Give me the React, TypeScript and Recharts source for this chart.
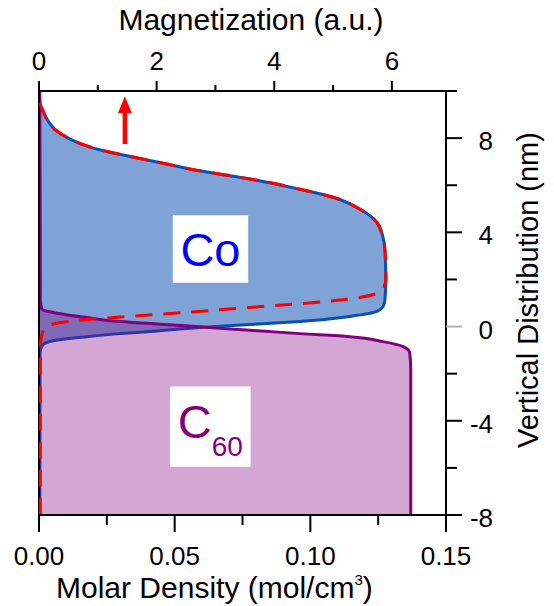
import {
  Area,
  ComposedChart,
  Line,
  ReferenceArea,
  ReferenceLine,
  XAxis,
  YAxis,
} from "recharts"

const FONT = '"Liberation Sans", Arial, sans-serif'

// Co molar density (mol/cm3) vs height (nm)
const coHeight = [
  -8, -1.1, -0.77, -0.6, -0.43, -0.3, -0.21, -0.04, 0.085, 0.21, 0.43, 0.64,
  0.85, 1.15, 2.0, 3.28, 3.83, 4.43, 4.98, 5.49, 5.83, 6.13, 6.38, 6.6, 6.89,
  7.19, 7.4, 7.62, 7.96, 8.3, 8.81, 9.15, 9.45, 10,
]
const coDensity = [
  0.0003, 0.0004, 0.0015, 0.0052, 0.0177, 0.0298, 0.0409, 0.0593, 0.0778,
  0.0962, 0.1146, 0.1246, 0.1268, 0.1275, 0.1278, 0.1275, 0.1267, 0.1245,
  0.1183, 0.1084, 0.0962, 0.084, 0.0718, 0.0597, 0.0475, 0.035, 0.0262, 0.0188,
  0.0114, 0.0066, 0.0029, 0.0015, 0.0004, 0.0001,
]

// C60 molar density vs height
const c60Height = [
  -8, -1.8, -1.1, -0.85, -0.64, -0.43, -0.3, -0.16, -0.01, 0.1, 0.21, 0.38, 0.6,
  0.72, 1.15, 10,
]
const c60Density = [
  0.137, 0.137, 0.1366, 0.1342, 0.1268, 0.1146, 0.0962, 0.0778, 0.0593, 0.0446,
  0.0299, 0.0177, 0.0052, 0.0011, 0.0005, 0.0003,
]

// magnetization (a.u.) vs height
const magHeight = [
  -8, -0.77, -0.47, -0.04, 0.17, 0.68, 1.23, 1.4, 1.57, 1.79, 2.0, 3.28, 3.83,
  4.43, 4.98, 5.49, 5.83, 6.13, 6.38, 6.6, 6.89, 7.19, 7.4, 7.62, 7.96, 8.3,
  8.81, 9.15, 9.45, 10,
]
const magValue = [
  0.02, 0.02, 0.04, 0.1, 0.37, 2.91, 5.45, 5.74, 5.85, 5.88, 5.9, 5.88, 5.84,
  5.74, 5.46, 5.0, 4.44, 3.88, 3.31, 2.75, 2.19, 1.61, 1.21, 0.87, 0.53, 0.3,
  0.13, 0.07, 0.02, 0,
]

const densityTicks = [0, 0.025, 0.05, 0.075, 0.1, 0.125, 0.15]
const densityLabels = [0, 0.05, 0.1, 0.15]
const magTicks = [0, 1, 2, 3, 4, 5, 6]
const magLabels = [0, 2, 4, 6]
const heightTicks = [-8, -6, -4, -2, 0, 2, 4, 6, 8, 10]
const heightLabels = [-8, -4, 0, 4, 8]

const coData = coHeight.map((h, i) => ({ h, co: coDensity[i] }))
const c60Data = c60Height.map((h, i) => ({ h, c60: c60Density[i] }))
const magData = magHeight.map((h, i) => ({ h, mag: magValue[i] }))

function DensityTick({ x, y, payload }: any) {
  const v = payload.value as number
  const major = densityLabels.includes(v)
  return (
    <g>
      <line x1={x} x2={x} y1={y} y2={y + (major ? 17 : 10)} stroke="#000" strokeWidth={2} />
      {major && (
        <text x={x} y={y + 50} textAnchor="middle" fontSize={26} fontFamily={FONT} fill="#000">
          {v.toFixed(2)}
        </text>
      )}
    </g>
  )
}

function MagTick({ x, y, payload }: any) {
  const v = payload.value as number
  const major = magLabels.includes(v)
  return (
    <g>
      <line x1={x} x2={x} y1={y} y2={y - (major ? 10 : 6)} stroke="#000" strokeWidth={2} />
      {major && (
        <text x={x} y={y - 21} textAnchor="middle" fontSize={26} fontFamily={FONT} fill="#000">
          {v}
        </text>
      )}
    </g>
  )
}

function HeightTick({ x, y, payload }: any) {
  const v = payload.value as number
  const major = heightLabels.includes(v)
  return (
    <g>
      <line
        x1={x}
        x2={x + (major ? 16 : 11)}
        y1={y}
        y2={y}
        stroke={v === 0 ? "#b4b4b4" : "#000"}
        strokeWidth={2}
      />
      {major && (
        <text x={x + 47} y={y + 12} textAnchor="end" fontSize={26} fontFamily={FONT} fill="#000">
          {v}
        </text>
      )}
    </g>
  )
}

function Arrow({ x1, y1, x2, y2 }: any) {
  return (
    <g>
      <line x1={x1} y1={y1} x2={x2} y2={y2 + 14} stroke="#ff0000" strokeWidth={4.5} />
      <path d={`M${x2},${y2} L${x2 - 7},${y2 + 17} L${x2 + 7},${y2 + 17} Z`} fill="#ff0000" />
    </g>
  )
}

export default function App() {
  return (
    <div style={{ position: "absolute", left: 0, top: 0, width: 554, height: 606, background: "#fff" }}>
      <ComposedChart
        width={554}
        height={606}
        layout="vertical"
        margin={{ top: 0, right: 0, bottom: 0, left: 39 }}
      >
        <XAxis
          xAxisId="dens"
          type="number"
          orientation="bottom"
          domain={[0, 0.15]}
          ticks={densityTicks}
          interval={0}
          allowDataOverflow
          height={91}
          tickSize={0}
          tickMargin={0}
          tickLine={false}
          axisLine={{ stroke: "#000", strokeWidth: 2 }}
          tick={<DensityTick />}
          label={(p: any) => {
            const vb = p.viewBox || { x: 39, y: 515 }
            return (
              <text x={vb.x + 17} y={vb.y + 83} fontSize={30} fontFamily={FONT} fill="#000">
                Molar Density (mol/cm
                <tspan fontSize={15} dy={-13}>3</tspan>
                <tspan dy={13}>)</tspan>
              </text>
            )
          }}
        />
        <XAxis
          xAxisId="mag"
          type="number"
          orientation="top"
          domain={[0, 6.92]}
          ticks={magTicks}
          interval={0}
          allowDataOverflow
          height={91}
          tickSize={0}
          tickMargin={0}
          tickLine={false}
          axisLine={{ stroke: "#000", strokeWidth: 2 }}
          tick={<MagTick />}
          label={(p: any) => {
            const vb = p.viewBox || { x: 39, y: 0 }
            return (
              <text x={vb.x + 212} y={vb.y + 30} textAnchor="middle" fontSize={30} fontFamily={FONT} fill="#000">
                Magnetization (a.u.)
              </text>
            )
          }}
        />
        <YAxis
          yAxisId="h"
          type="number"
          dataKey="h"
          orientation="right"
          domain={[-8, 10]}
          ticks={heightTicks}
          interval={0}
          allowDataOverflow
          reversed
          width={108}
          tickSize={0}
          tickMargin={0}
          tickLine={false}
          axisLine={{ stroke: "#000", strokeWidth: 2 }}
          tick={<HeightTick />}
          label={(p: any) => {
            const vb = p.viewBox || { x: 446, y: 91, height: 424 }
            const cx = vb.x + 82
            const cy = vb.y + 199
            return (
              <text
                x={cx}
                y={cy}
                transform={`rotate(-90 ${cx} ${cy})`}
                textAnchor="middle"
                dominantBaseline="central"
                fontSize={29}
                fontFamily={FONT}
                fill="#000"
              >
                Vertical Distribution (nm)
              </text>
            )
          }}
        />
        <ReferenceLine xAxisId="dens" yAxisId="h" x={0} stroke="#000" strokeWidth={2} />
        <Area
          data={coData}
          xAxisId="dens"
          yAxisId="h"
          dataKey="co"
          type="monotone"
          stroke="#0a50b4"
          strokeWidth={3}
          fill="#7fa3d6"
          fillOpacity={1}
          isAnimationActive={false}
        />
        <Area
          data={c60Data}
          xAxisId="dens"
          yAxisId="h"
          dataKey="c60"
          type="monotone"
          stroke="#800080"
          strokeWidth={3}
          fill="#800080"
          fillOpacity={0.35}
          isAnimationActive={false}
        />
        <Line
          data={magData}
          xAxisId="mag"
          yAxisId="h"
          dataKey="mag"
          type="monotone"
          stroke="#ff0000"
          strokeWidth={3}
          strokeDasharray="17 11"
          dot={false}
          isAnimationActive={false}
        />
        <ReferenceArea
          xAxisId="dens"
          yAxisId="h"
          x1={0.0493}
          x2={0.0771}
          y1={1.86}
          y2={4.73}
          fill="#fff"
          fillOpacity={1}
          stroke="none"
          label={(p: any) => {
            const vb = p.viewBox
            return (
              <text
                x={vb.x + vb.width / 2}
                y={vb.y + vb.height / 2 + 17}
                textAnchor="middle"
                fontSize={47}
                fontFamily={FONT}
                fill="#0000ff"
              >
                Co
              </text>
            )
          }}
        />
        <ReferenceArea
          xAxisId="dens"
          yAxisId="h"
          x1={0.0483}
          x2={0.078}
          y1={-5.95}
          y2={-2.55}
          fill="#fff"
          fillOpacity={1}
          stroke="none"
          label={(p: any) => {
            const vb = p.viewBox
            return (
              <text
                x={vb.x + vb.width / 2}
                y={vb.y + vb.height / 2 + 11}
                textAnchor="middle"
                fontSize={47}
                fontFamily={FONT}
                fill="#800080"
              >
                C
                <tspan fontSize={28} dy={18}>60</tspan>
              </text>
            )
          }}
        />
        <ReferenceLine
          xAxisId="mag"
          yAxisId="h"
          segment={[
            { x: 1.46, y: 7.75 },
            { x: 1.46, y: 9.78 },
          ]}
          shape={<Arrow />}
        />
      </ComposedChart>
    </div>
  )
}
